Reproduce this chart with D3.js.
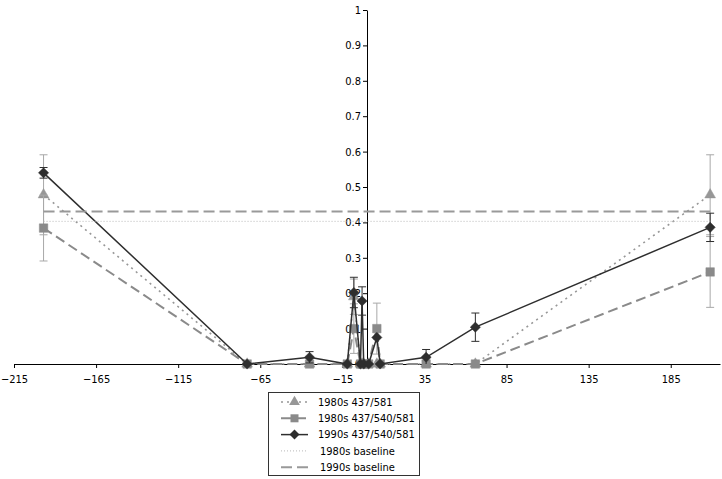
<!DOCTYPE html>
<html><head><meta charset="utf-8">
<script src="https://cdn.jsdelivr.net/npm/d3@7"></script>
<style>
body{margin:0;background:#fff;}
svg{display:block;}
text{font-family:"DejaVu Sans Condensed","DejaVu Sans",sans-serif;font-size:11px;fill:#000;}
</style></head><body>
<svg id="chart" width="722" height="479"></svg>
<script>
// ---- data ----
const positions = [-197, -73, -35, -12, -8, -4, -3, -2, 1, 6, 8, 36, 66, 209];
const tri80 = [0.478, 0, 0, 0, 0.19, 0, 0, 0, 0, 0, 0, 0, 0, 0.478];
const tri80Err = [0.113, 0, 0, 0, 0.05, 0, 0, 0, 0, 0, 0, 0, 0, 0.113];
const sq80 = [0.384, 0, 0, 0, 0.1, 0, 0, 0, 0, 0.1, 0, 0, 0, 0.26];
const sq80Err = [0.093, 0, 0, 0, 0.07, 0, 0, 0, 0, 0.072, 0, 0, 0, 0.1];
const dia90 = [0.54, 0, 0.019, 0, 0.202, 0, 0.178, 0, 0, 0.075, 0, 0.019, 0.104, 0.386];
const dia90Err = [0.015, 0, 0.016, 0, 0.043, 0, 0.04, 0, 0, 0, 0, 0.022, 0.04, 0.04];
const baselineX = [-197, 209];
const baseline80 = 0.403;
const baseline90 = 0.431;
const xTicks = [-215, -165, -115, -65, -15, 35, 85, 135, 185];
const yTicks = [0, 0.1, 0.2, 0.3, 0.4, 0.5, 0.6, 0.7, 0.8, 0.9, 1];
const legendLabels = ["1980s 437/581", "1980s 437/540/581", "1990s 437/540/581", "1980s baseline", "1990s baseline"];

const svg = d3.select("#chart");
const x = d3.scaleLinear().domain([-215, 215]).range([14, 720]);
const y = d3.scaleLinear().domain([0, 1]).range([364, 10]);

// axes
const xAxis = d3.axisBottom(x).tickValues(xTicks).tickSize(4).tickSizeOuter(0).tickFormat(d3.format("d"));
const gx = svg.append("g").attr("transform", `translate(0,${y(0)})`).call(xAxis);
gx.select(".domain").attr("stroke", "#000");
gx.selectAll(".tick line").attr("stroke", "#000");
gx.selectAll(".tick text").attr("dy", "0.95em").attr("y", 9);

const yAxis = d3.axisLeft(y).tickValues(yTicks).tickSize(4).tickSizeOuter(0).tickFormat(d => d === 0 ? "0" : (d === 1 ? "1" : d3.format(".1f")(d)));
const gy = svg.append("g").attr("transform", `translate(${x(0)},0)`).call(yAxis);
gy.select(".domain").attr("stroke", "#000");
gy.selectAll(".tick line").attr("stroke", "#000");
gy.selectAll(".tick text").attr("x", -6);
gx.attr("font-family", null).attr("font-size", null);
gy.attr("font-family", null).attr("font-size", null);

const diamond = { draw(ctx, size) { const r = Math.sqrt(size / 2); ctx.moveTo(0, -r); ctx.lineTo(r, 0); ctx.lineTo(0, r); ctx.lineTo(-r, 0); ctx.closePath(); } };

const series = [
  {name: legendLabels[0], vals: tri80, err: tri80Err, color: "#979797", errColor: "#a8a8a8", dash: "2,4", width: 1.6, marker: d3.symbolTriangle, size: 50},
  {name: legendLabels[1], vals: sq80, err: sq80Err, color: "#8a8a8a", errColor: "#a8a8a8", dash: "10,5", width: 2, marker: d3.symbolSquare, size: 72},
  {name: legendLabels[2], vals: dia90, err: dia90Err, color: "#2e2e2e", errColor: "#2e2e2e", dash: null, width: 1.5, marker: diamond, size: 52}
];

const line = d3.line().x(d => x(d[0])).y(d => y(d[1]));

series.forEach(s => {
  const pts = positions.map((p, i) => [p, s.vals[i], s.err[i]]);
  const g = svg.append("g");
  g.append("path").datum(pts).attr("d", line).attr("fill", "none")
    .attr("stroke", s.color).attr("stroke-width", s.width)
    .attr("stroke-dasharray", s.dash);
  pts.filter(d => d[2] > 0).forEach(d => {
    const cx = x(d[0]);
    const y1 = y(d[1] + d[2]), y2 = y(Math.max(0, d[1] - d[2]));
    g.append("line").attr("x1", cx).attr("x2", cx).attr("y1", y1).attr("y2", y2).attr("stroke", s.errColor).attr("stroke-width", 1);
    g.append("line").attr("x1", cx - 4).attr("x2", cx + 4).attr("y1", y1).attr("y2", y1).attr("stroke", s.errColor).attr("stroke-width", 1);
    if (d[1] - d[2] > 0) g.append("line").attr("x1", cx - 4).attr("x2", cx + 4).attr("y1", y2).attr("y2", y2).attr("stroke", s.errColor).attr("stroke-width", 1);
  });
  g.selectAll("path.m").data(pts).join("path").attr("class", "m")
    .attr("d", d3.symbol().type(s.marker).size(s.size))
    .attr("transform", d => `translate(${x(d[0])},${y(d[1])})`)
    .attr("fill", s.color).attr("stroke", s.color).attr("stroke-width", 0.5);
});

// baselines
svg.append("line").attr("x1", x(baselineX[0])).attr("x2", x(baselineX[1]))
  .attr("y1", y(baseline80)).attr("y2", y(baseline80))
  .attr("stroke", "#b8b8b8").attr("stroke-width", 1).attr("stroke-dasharray", "1,2");
svg.append("line").attr("x1", x(baselineX[0])).attr("x2", x(baselineX[1]))
  .attr("y1", y(baseline90)).attr("y2", y(baseline90))
  .attr("stroke", "#999").attr("stroke-width", 2).attr("stroke-dasharray", "11,5");

// legend
const lg = svg.append("g").attr("transform", "translate(268,392)");
lg.append("rect").attr("x", 0.5).attr("y", 0.5).attr("width", 151).attr("height", 83).attr("fill", "#fff").attr("stroke", "#333");
const legendItems = [
  {color: "#979797", dash: "2,4", width: 1.6, marker: d3.symbolTriangle, size: 50},
  {color: "#8a8a8a", dash: "10,5", width: 2, marker: d3.symbolSquare, size: 64},
  {color: "#2e2e2e", dash: null, width: 1.5, marker: diamond, size: 50},
  {color: "#b8b8b8", dash: "1,2", width: 1, marker: null},
  {color: "#999", dash: "11,5", width: 2, marker: null}
];
legendItems.forEach((it, i) => {
  const cy = 10 + i * 16.3;
  lg.append("line").attr("x1", 13).attr("x2", 40).attr("y1", cy).attr("y2", cy)
    .attr("stroke", it.color).attr("stroke-width", it.width).attr("stroke-dasharray", it.dash);
  if (it.marker) lg.append("path").attr("d", d3.symbol().type(it.marker).size(it.size)())
    .attr("transform", `translate(26.5,${cy})`).attr("fill", it.color);
  lg.append("text").attr("x", i < 3 ? 50 : 52).attr("y", cy).attr("dy", "0.35em").text(legendLabels[i]);
});
</script>
</body></html>
